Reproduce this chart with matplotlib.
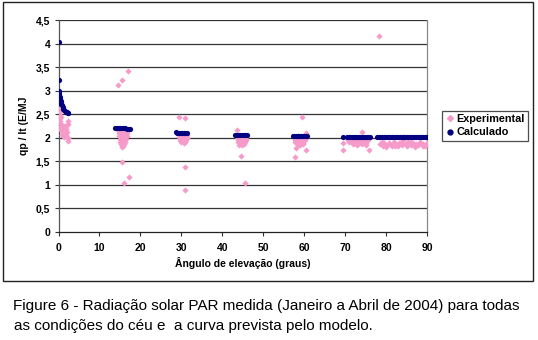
import matplotlib
matplotlib.use("Agg")
from matplotlib import pyplot as plt
from matplotlib.patches import Rectangle
from matplotlib.lines import Line2D

# Calculado (modelo)
calc_x = [0.0, 0.05, 0.1, 0.15, 0.2, 0.3, 0.4, 0.5, 0.6, 0.7, 0.8, 1.0, 1.2, 1.4, 1.6, 1.8, 2.0, 2.2, 2.4,
          13.9, 14.3, 14.7, 15.1, 15.5, 15.9, 16.3, 16.7, 17.1, 17.5,
          28.6, 29.0, 29.4, 29.8, 30.2, 30.6, 31.0, 31.3,
          43.2, 43.6, 44.0, 44.4, 44.8, 45.2, 45.6, 46.0,
          57.2, 57.6, 58.0, 58.4, 58.8, 59.2, 59.6, 60.0, 60.4, 60.7,
          69.4, 70.5, 70.9, 71.3, 71.7, 72.1, 72.5, 72.9, 73.3, 73.7, 74.1, 74.5, 74.9, 75.3, 75.7, 76.1,
          77.8, 78.2, 78.6, 79.0, 79.4, 79.8, 80.2, 80.6, 81.0, 81.4, 81.8, 82.2, 82.6, 83.0, 83.4, 83.8,
          84.2, 84.6, 85.0, 85.4, 85.8, 86.2, 86.6, 87.0, 87.4, 87.8, 88.2, 88.6, 89.0, 89.4, 89.8, 90.0]
calc_y = [4.03, 3.22, 3.00, 2.95, 2.91, 2.86, 2.82, 2.78, 2.75, 2.72, 2.69, 2.65, 2.62, 2.59, 2.57, 2.55, 2.54, 2.53, 2.52,
          2.21, 2.21, 2.20, 2.20, 2.20, 2.20, 2.20, 2.19, 2.19, 2.19,
          2.12, 2.11, 2.11, 2.11, 2.10, 2.10, 2.10, 2.10,
          2.06, 2.06, 2.06, 2.06, 2.06, 2.06, 2.06, 2.06,
          2.04, 2.04, 2.04, 2.04, 2.04, 2.04, 2.04, 2.04, 2.04, 2.04,
          2.02, 2.02, 2.02, 2.02, 2.02, 2.02, 2.02, 2.02, 2.02, 2.02, 2.02, 2.02, 2.02, 2.02, 2.02, 2.02,
          2.01, 2.01, 2.01, 2.01, 2.01, 2.01, 2.01, 2.01, 2.01, 2.01, 2.01, 2.01, 2.01, 2.01, 2.01, 2.01,
          2.01, 2.01, 2.01, 2.01, 2.01, 2.01, 2.01, 2.01, 2.01, 2.01, 2.01, 2.01, 2.01, 2.01, 2.01, 2.01]

# Experimental (medido)
exp_x = [0.1, 0.3, 0.2, 0.5, 0.7, 0.1, 0.4, 0.2, 0.5, 0.8, 1.0, 1.2, 1.4, 1.6,
         1.8, 2.0, 2.2, 2.4, 0.9, 1.3, 1.7, 2.1, 2.3, 2.4, 1.1, 0.6, 1.5, 1.9,
         14.6, 15.0, 15.4, 15.8, 16.2, 16.6, 17.0,
         14.7, 15.1, 15.5, 15.9, 16.3, 16.7,
         14.8, 15.2, 15.6, 16.0, 16.4, 16.8,
         14.9, 15.3, 15.7, 16.1, 16.5,
         15.0, 15.4, 15.8, 16.2,
         15.2, 15.6, 16.0, 15.5, 15.8,
         14.5, 15.6, 17.0, 15.6, 17.1, 16.1,
         29.4, 29.8, 30.2, 30.6, 31.0, 31.4,
         29.5, 29.9, 30.3, 30.7, 31.1, 31.5,
         29.6, 30.0, 30.4, 30.8, 31.2,
         30.0, 30.6, 31.0,
         29.4, 31.0, 31.0, 31.0,
         43.7, 44.1, 44.5, 44.9, 45.3, 45.7,
         43.8, 44.2, 44.6, 45.0, 45.4, 45.8,
         43.9, 44.3, 44.7, 45.1, 45.5,
         44.2, 44.8, 45.4,
         43.6, 44.6, 45.6,
         57.6, 58.0, 58.4, 58.8, 59.2, 59.6, 60.0, 60.4,
         57.7, 58.1, 58.5, 58.9, 59.3, 59.7, 60.1,
         57.8, 58.2, 58.6, 59.0, 59.4, 59.8,
         58.4, 59.0, 59.6,
         59.5, 60.5, 57.9, 60.4, 57.8,
         70.8, 71.4, 72.0, 72.6, 73.2, 73.8, 74.4, 75.0, 75.5,
         71.0, 71.6, 72.2, 72.8, 73.4, 74.0, 74.6, 75.2,
         72.0, 73.0, 74.2, 75.0,
         69.6, 69.6, 74.1, 75.9,
         78.3,
         78.6, 79.2, 79.6, 80.2, 80.8, 81.4, 82.0, 82.6, 83.2, 83.8, 84.2,
         84.8, 85.4, 86.0, 86.6, 87.2, 87.8, 88.4, 89.0, 89.6, 90.0,
         79.0, 80.0, 81.0, 82.2, 83.0, 84.0, 85.0, 86.2, 87.0, 88.0, 89.0, 84.4]
exp_y = [2.62, 2.56, 2.50, 2.58, 2.45, 2.40, 2.36, 2.20, 2.16, 2.22, 2.15, 2.10, 2.20, 2.24,
         2.18, 2.28, 2.35, 2.30, 2.05, 2.02, 2.08, 2.12, 2.00, 1.94, 2.25, 2.30, 2.12, 2.05,
         2.16, 2.15, 2.17, 2.16, 2.15, 2.14, 2.16,
         2.10, 2.09, 2.11, 2.10, 2.08, 2.10,
         2.04, 2.03, 2.05, 2.02, 2.04, 2.03,
         1.98, 1.97, 1.99, 1.96, 1.98,
         1.92, 1.91, 1.93, 1.90,
         1.86, 1.85, 1.87, 1.80, 1.82,
         3.12, 3.22, 3.42, 1.48, 1.17, 1.05,
         2.07, 2.06, 2.08, 2.05, 2.07, 2.06,
         2.01, 2.00, 2.02, 1.99, 2.01, 2.00,
         1.95, 1.94, 1.96, 1.93, 1.95,
         1.90, 1.89, 1.91,
         2.45, 2.43, 1.38, 0.90,
         2.02, 2.01, 2.03, 2.00, 2.02, 2.01,
         1.96, 1.95, 1.97, 1.94, 1.96, 1.95,
         1.90, 1.89, 1.91, 1.88, 1.90,
         1.85, 1.84, 1.86,
         2.16, 1.62, 1.05,
         2.02, 2.01, 2.03, 2.00, 2.02, 2.01, 2.02, 2.00,
         1.96, 1.95, 1.97, 1.94, 1.96, 1.95, 1.96,
         1.90, 1.89, 1.91, 1.88, 1.90, 1.89,
         1.85, 1.84, 1.86,
         2.45, 2.11, 1.78, 1.74, 1.60,
         1.95, 1.97, 1.99, 1.96, 1.98, 2.00, 1.97, 1.99, 1.96,
         1.90, 1.92, 1.89, 1.91, 1.88, 1.90, 1.92, 1.89,
         1.86, 1.85, 1.86, 1.85,
         1.88, 1.74, 2.13, 1.74,
         4.15,
         1.86, 1.82, 1.88, 1.84, 1.89, 1.83, 1.90, 1.85, 1.88, 1.92, 1.95,
         1.86, 1.90, 1.84, 1.89, 1.87, 1.84, 1.90, 1.86, 1.82, 1.88,
         1.90, 1.80, 1.86, 1.82, 1.83, 1.84, 1.82, 1.92, 1.81, 1.87, 1.83, 2.02]

y_ticks = [0, 0.5, 1, 1.5, 2, 2.5, 3, 3.5, 4, 4.5]
y_labels = ["0", "0,5", "1", "1,5", "2", "2,5", "3", "3,5", "4", "4,5"]
x_ticks = [0, 10, 20, 30, 40, 50, 60, 70, 80, 90]

pink = "#f59ac9"
navy = "#000080"

plt.rcParams['font.family'] = ['Liberation Sans', 'DejaVu Sans']

fig = plt.figure(figsize=(5.38, 3.40), dpi=100)
ax = fig.add_axes([58.5 / 538, 1 - 232 / 340, (427 - 58.5) / 538, 212 / 340])

# moldura externa
fig.patches.append(Rectangle((3 / 538, 1 - 281 / 340), 530 / 538, 279 / 340,
                             transform=fig.transFigure, fill=False,
                             edgecolor="#222222", linewidth=1.0))

for t in y_ticks[1:]:
    ax.axhline(t, color="#333333", linewidth=0.9, zorder=1)

ax.scatter(exp_x, exp_y, marker="D", s=10, color=pink, linewidths=0, zorder=3)
ax.scatter(calc_x, calc_y, marker="o", s=14, color=navy, linewidths=0, zorder=4)

ax.set_xlim(0, 90)
ax.set_ylim(0, 4.5)
ax.set_xticks(x_ticks)
ax.set_xticklabels([str(v) for v in x_ticks], fontsize=7.5, fontweight="bold")
ax.set_yticks(y_ticks)
ax.set_yticklabels(y_labels, fontsize=7.5, fontweight="bold")
ax.tick_params(axis="both", length=3, width=0.8, color="#333333", pad=3)
ax.tick_params(axis="x", pad=5)

ax.spines["top"].set_visible(False)
ax.spines["right"].set_color("#888888")
ax.spines["left"].set_color("#555555")
ax.spines["bottom"].set_color("#222222")
for s in ax.spines.values():
    s.set_linewidth(0.9)

ax.set_xlabel("Ângulo de elevação (graus)", fontsize=7.5, fontweight="bold", labelpad=3)
ax.set_ylabel("qp / It (E/MJ", fontsize=7.5, fontweight="bold", labelpad=5)

handles = [Line2D([], [], marker="D", linestyle="", color=pink, markersize=3),
           Line2D([], [], marker="o", linestyle="", color=navy, markersize=3.5)]
leg = fig.legend(handles, ["Experimental", "Calculado"], loc="upper left",
                 bbox_to_anchor=(442 / 538, 1 - 111 / 340), frameon=True, fancybox=False,
                 prop={"size": 7.8, "weight": "bold"}, handletextpad=0.1, handlelength=0.9,
                 borderpad=0.3, labelspacing=0.3, borderaxespad=0)
leg.get_frame().set_edgecolor("#222222")
leg.get_frame().set_linewidth(0.9)

fig.text(13 / 538, 1 - 306 / 340, "Figure 6 - Radiação solar PAR medida (Janeiro a Abril de 2004) para todas",
         fontsize=11, va="center", ha="left")
fig.text(14 / 538, 1 - 326 / 340, "as condições do céu e  a curva prevista pelo modelo.",
         fontsize=11, va="center", ha="left")

fig.savefig("out.png", dpi=100)
